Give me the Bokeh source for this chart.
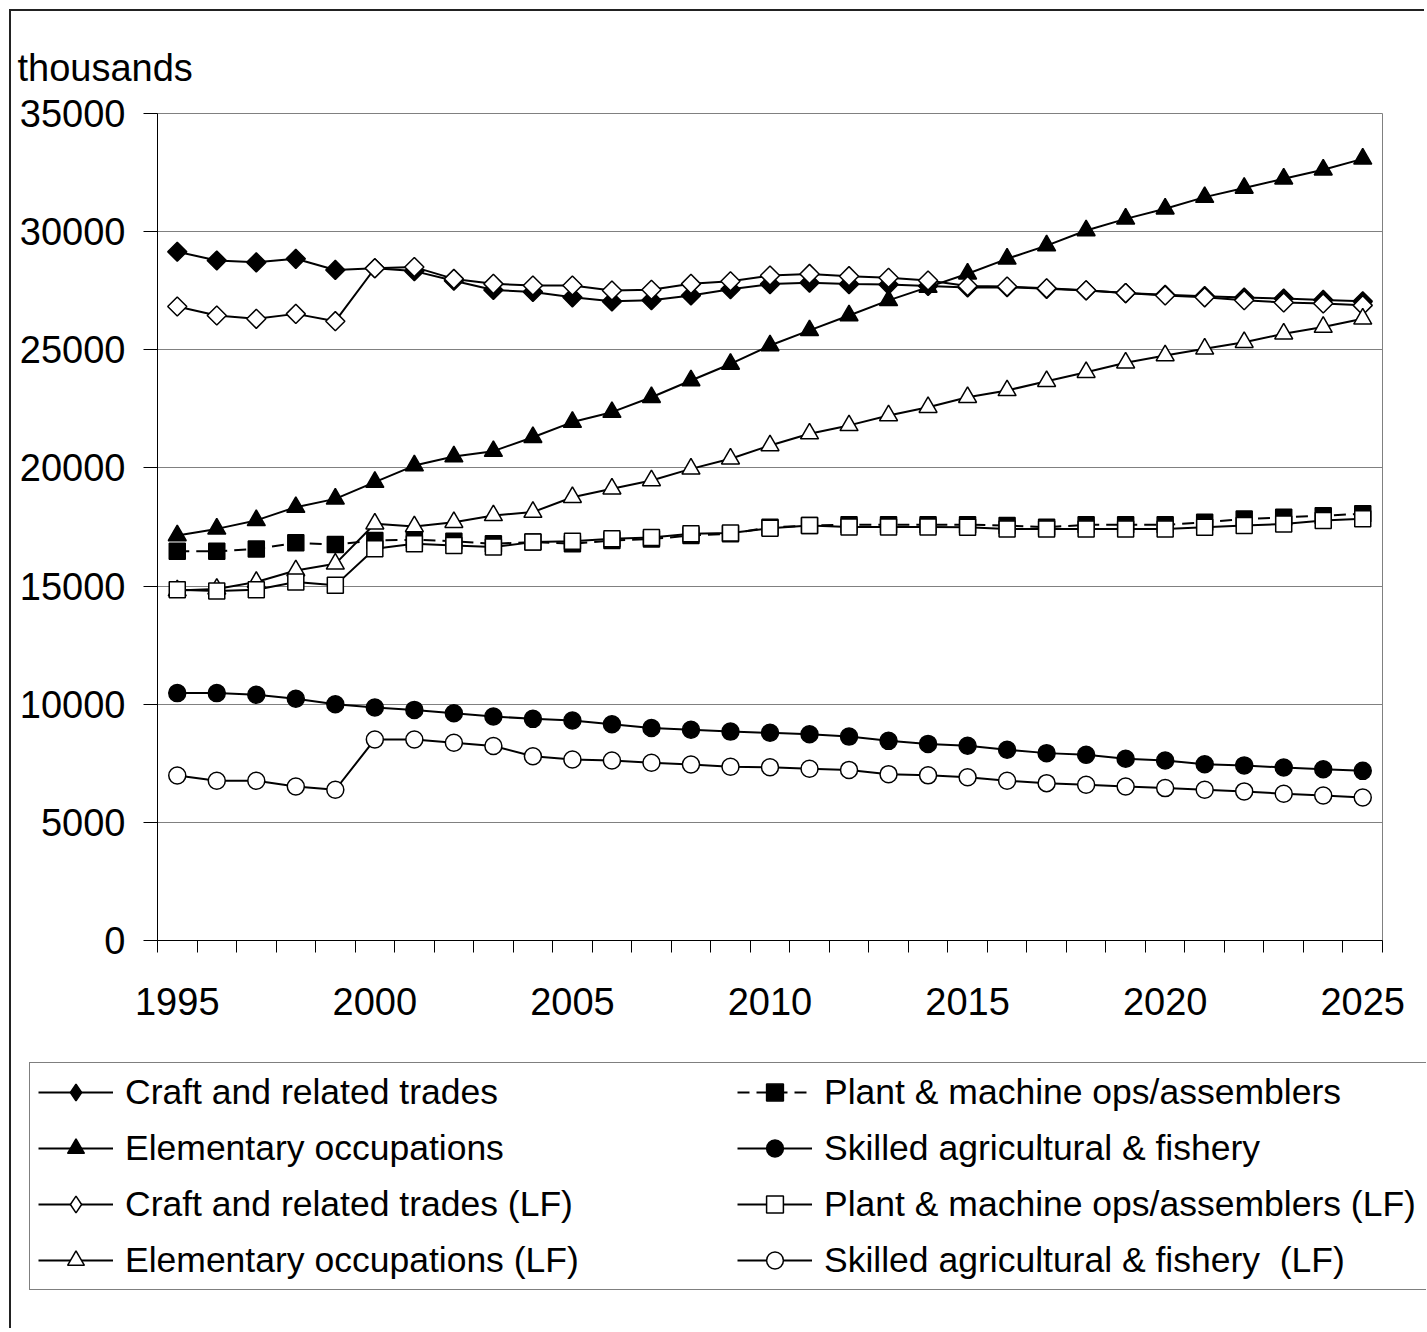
import math
from bokeh.plotting import figure
from bokeh.models import FixedTicker, Legend, LegendItem, Range1d
from bokeh.embed import file_html
from bokeh.resources import INLINE

years = list(range(1995, 2026))
x_label_years = [1995, 2000, 2005, 2010, 2015, 2020, 2025]
y_ticks = [0, 5000, 10000, 15000, 20000, 25000, 30000, 35000]

craft = [29150, 28780, 28700, 28850, 28380, 28450, 28330, 27920, 27530, 27450,
         27220, 27050, 27100, 27300, 27560, 27780, 27840, 27780, 27760, 27700,
         27640, 27650, 27580, 27510, 27400, 27330, 27270, 27210, 27170, 27110, 27050]
craft_lf = [26830, 26450, 26310, 26520, 26210, 28450, 28500, 28000, 27790, 27720,
            27720, 27510, 27540, 27790, 27900, 28140, 28210, 28115, 28050, 27930,
            27700, 27680, 27600, 27520, 27400, 27300, 27220, 27100, 27000, 26960, 26880]
elem = [17140, 17420, 17780, 18340, 18690, 19400, 20100, 20480, 20710, 21300,
        21940, 22360, 22990, 23700, 24400, 25180, 25820, 26450, 27090, 27650,
        28220, 28850, 29410, 30050, 30540, 30970, 31460, 31850, 32240, 32620, 33080]
elem_lf = [14810, 14880, 15170, 15660, 15940, 17640, 17520, 17700, 17990, 18130,
           18760, 19120, 19470, 19960, 20390, 20950, 21450, 21800, 22220, 22570,
           22990, 23280, 23670, 24050, 24450, 24760, 25040, 25320, 25680, 25960, 26310]
plant = [16470, 16470, 16570, 16830, 16760, 16930, 16960, 16900, 16790, 16860,
         16790, 16930, 16990, 17140, 17210, 17490, 17560, 17600, 17600, 17600,
         17600, 17560, 17490, 17590, 17590, 17590, 17700, 17840, 17910, 17980, 18060]
plant_lf = [14840, 14790, 14840, 15170, 15030, 16580, 16790, 16720, 16650, 16860,
            16900, 17000, 17060, 17210, 17250, 17450, 17560, 17500, 17500, 17500,
            17490, 17420, 17420, 17420, 17420, 17420, 17490, 17560, 17630, 17780, 17850]
skilled = [10470, 10470, 10400, 10230, 10000, 9860, 9760, 9620, 9480, 9380,
           9310, 9150, 8990, 8920, 8840, 8790, 8730, 8630, 8450, 8320,
           8240, 8070, 7930, 7860, 7690, 7620, 7460, 7410, 7320, 7250, 7180]
skilled_lf = [6980, 6760, 6760, 6520, 6380, 8510, 8510, 8370, 8230, 7800,
              7660, 7620, 7520, 7450, 7350, 7330, 7270, 7220, 7040, 6990,
              6910, 6760, 6660, 6590, 6520, 6450, 6380, 6310, 6210, 6140, 6050]

labels = ["Craft and related trades", "Elementary occupations",
          "Craft and related trades (LF)", "Elementary occupations (LF)",
          "Plant & machine ops/assemblers", "Skilled agricultural & fishery",
          "Plant & machine ops/assemblers (LF)", "Skilled agricultural & fishery  (LF)"]
y_unit_label = "thousands"

FONT = "Liberation Sans"
W = 1415
H_MAIN = 1040
H_LEG = 279

p = figure(width=W, height=H_MAIN, output_backend="svg", toolbar_location=None,
           x_range=Range1d(1994.5, 2025.5), y_range=Range1d(0, 35000),
           min_border_left=146, min_border_top=102, min_border_right=W - 146 - 1225,
           min_border_bottom=H_MAIN - 102 - 827)
p.styles = {"border-left": "2px solid #222", "border-top": "2px solid #222",
            "margin-left": "9px", "margin-top": "9px"}
p.background_fill_color = "white"
p.border_fill_color = "white"
p.outline_line_color = "#808080"
p.outline_line_width = 1

p.title.text = y_unit_label
p.title.align = "left"
p.title.offset = -140
p.title.standoff = 49
p.title.text_font = FONT
p.title.text_font_size = "38px"
p.title.text_font_style = "normal"
p.title.text_color = "black"

xa = p.xaxis[0]
xa.ticker = FixedTicker(ticks=x_label_years,
                        minor_ticks=[y - 0.5 for y in years] + [2025.5])
xa.major_tick_out = 0
xa.major_tick_in = 0
xa.minor_tick_out = 12
xa.minor_tick_in = 0
xa.minor_tick_line_color = "black"
xa.axis_line_color = "black"
xa.major_label_text_font = FONT
xa.major_label_text_font_size = "38px"
xa.major_label_text_color = "black"
xa.major_label_standoff = 35

ya = p.yaxis[0]
ya.ticker = FixedTicker(ticks=y_ticks)
ya.major_tick_out = 14
ya.major_tick_in = 0
ya.minor_tick_out = 0
ya.axis_line_color = "black"
ya.major_tick_line_color = "black"
ya.major_label_text_font = FONT
ya.major_label_text_font_size = "38px"
ya.major_label_text_color = "black"
ya.major_label_standoff = 18

p.xgrid.visible = False
p.ygrid.grid_line_color = "#808080"
p.ygrid.grid_line_width = 1

# (values, plot marker, legend marker, fill, size, angle, dash)
series = [
    (craft, "square", "diamond", "black", 13.5, math.pi / 4, "solid"),
    (elem, "triangle", "triangle", "black", 18, 0, "solid"),
    (craft_lf, "square", "diamond", "white", 13.5, math.pi / 4, "solid"),
    (elem_lf, "triangle", "triangle", "white", 18, 0, "solid"),
    (plant, "square", "square", "black", 16, 0, "12 7"),
    (skilled, "circle", "circle", "black", 17, 0, "solid"),
    (plant_lf, "square", "square", "white", 16, 0, "solid"),
    (skilled_lf, "circle", "circle", "white", 17, 0, "solid"),
]

# legend canvas: its frame spans the whole canvas; the same series are drawn
# there out of view so that the legend samples carry the series' styles
pl = figure(width=W, height=H_LEG, output_backend="svg", toolbar_location=None,
            x_range=Range1d(0, 1), y_range=Range1d(0, 1),
            min_border_left=0, min_border_right=0, min_border_top=0,
            min_border_bottom=0)
pl.styles = {"border-left": "2px solid #222", "margin-left": "9px"}
pl.axis.visible = False
pl.grid.visible = False
pl.outline_line_color = None
pl.background_fill_color = "white"
pl.border_fill_color = "white"

items = []
for (vals, marker, lmarker, fill, size, ang, dash), lab in zip(series, labels):
    p.line(years, vals, line_color="black", line_width=2, line_dash=dash)
    p.scatter(years, vals, marker=marker, size=size, angle=ang,
              fill_color=fill, line_color="black", line_width=1.5)
    lr = pl.line(years, vals, line_color="black", line_width=2, line_dash=dash)
    sr = pl.scatter(years, vals, marker=lmarker, size=size,
                    fill_color=fill, line_color="black", line_width=1.5)
    items.append(LegendItem(label=lab, renderers=[lr, sr]))

legend = Legend(items=items, ncols=2, location=(18, 38),
                label_text_font=FONT, label_text_font_size="35.5px",
                label_text_color="black",
                glyph_width=75, glyph_height=42, label_height=42,
                label_width=598, label_standoff=12, spacing=14,
                padding=8, margin=0,
                border_line_color="black", border_line_width=1,
                background_fill_color="white", background_fill_alpha=1)
pl.add_layout(legend, "center")

open("out.html", "w").write(file_html([p, pl], INLINE))
